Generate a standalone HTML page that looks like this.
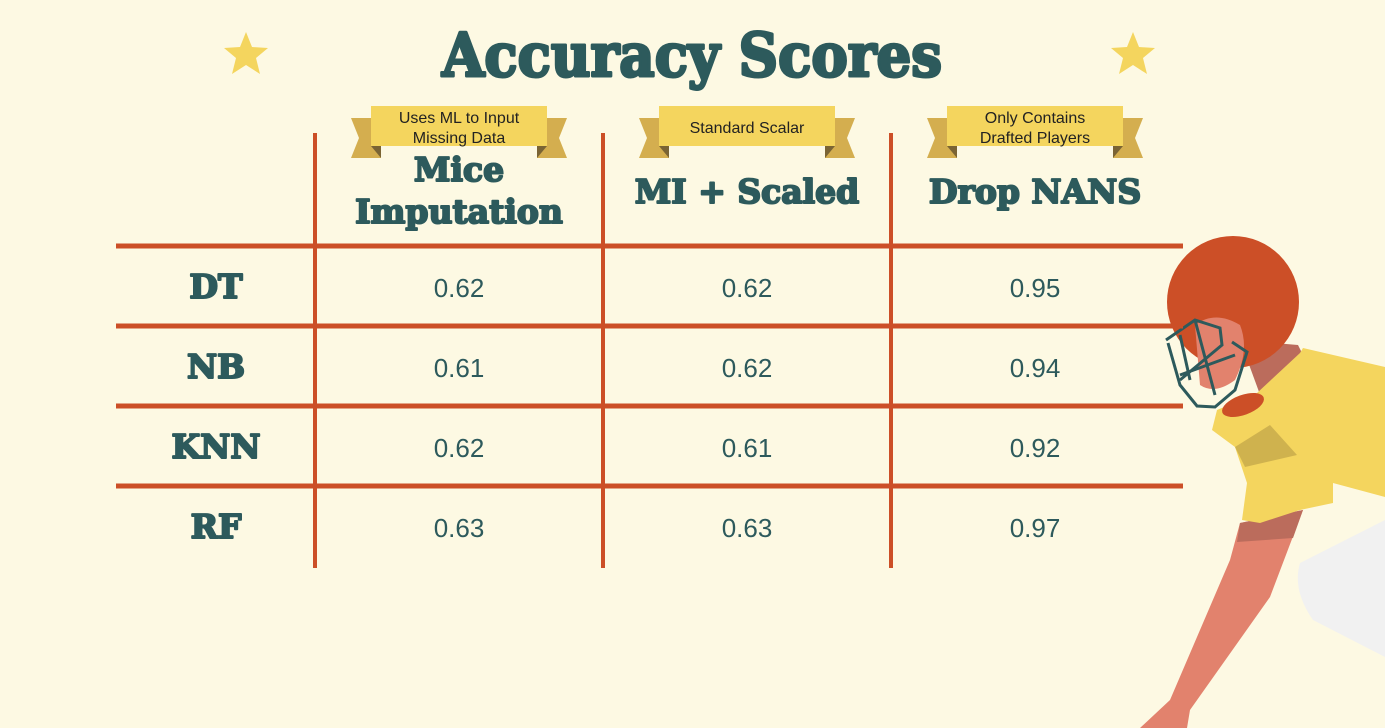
<!DOCTYPE html>
<html><head><meta charset="utf-8">
<style>
html,body{margin:0;padding:0;background:#fdf9e3;}
svg{display:block;}
</style></head>
<body>
<svg id="chart" width="1385" height="728" viewBox="0 0 1385 728">
  <rect width="1385" height="728" fill="#fdf9e3"/>
  <polygon fill="#f4d55e" points="246,32 252,47 268,48 256,58 260,74 246,65 232,74 236,58 224,48 240,47"/>
  <polygon fill="#f4d55e" points="1133,32 1139,47 1155,48 1143,58 1147,74 1133,65 1119,74 1123,58 1111,48 1127,47"/>
  <text x="692" y="76" text-anchor="middle" font-family="'DejaVu Serif','Liberation Serif',serif" font-weight="bold" font-size="60" fill="#2d5a5c" stroke="#2d5a5c" stroke-width="3" stroke-linejoin="round" textLength="500" lengthAdjust="spacingAndGlyphs">Accuracy Scores</text>
  <g id="player">
    <path fill="#f1f1f1" d="M1385,520 L1300,563 Q1292,590 1313,620 L1385,657 Z"/>
    <polygon fill="#e2826d" points="1240,523 1303,510 1270,597 1190,710 1187,728 1140,728 1170,700 1230,560"/>
    <polygon fill="#bb6c5c" points="1240,523 1303,510 1293,538 1237,542"/>
    <polygon fill="#bb6c5c" points="1240,340 1298,345 1303,355 1285,395 1262,400"/>
    <polygon fill="#f4d55e" points="1303,348 1385,367 1385,497 1333,483 1333,503 1300,510 1260,523 1242,520 1247,483 1235,447 1212,430 1217,410 1257,393 1300,353"/>
    <polygon fill="#cfb24e" points="1235,447 1270,425 1297,455 1245,467"/>
    <ellipse cx="1243" cy="405" rx="22" ry="10" fill="#cc4f27" transform="rotate(-20 1243 405)"/>
    <circle cx="1233" cy="302" r="66" fill="#cc4f27"/>
    <path fill="#e2826d" d="M1195,325 Q1215,310 1240,325 Q1250,350 1235,380 Q1215,395 1200,385 Z"/>
    <path fill="none" stroke="#2d5a5c" stroke-width="3" d="M1166,340 L1195,320 L1220,328 L1222,345 L1180,380 M1232,342 L1247,352 L1235,390 L1215,407 L1197,406 L1180,385 L1168,343 M1180,335 L1190,380 M1195,320 L1215,395 M1180,375 L1235,355"/>
  </g>
  <g id="table"></g>
</svg>
<script>
const columns = ["Mice|Imputation", "MI + Scaled", "Drop NANS"];
const ribbons = ["Uses ML to Input|Missing Data", "Standard Scalar", "Only Contains|Drafted Players"];
const models = ["DT", "NB", "KNN", "RF"];
const miceValues = [0.62, 0.61, 0.62, 0.63];
const scaledValues = [0.62, 0.62, 0.61, 0.63];
const dropValues = [0.95, 0.94, 0.92, 0.97];

const NS = "http://www.w3.org/2000/svg";
const g = document.getElementById("table");
function mk(tag, attrs, parent){ const e=document.createElementNS(NS,tag); for(const k in attrs) e.setAttribute(k,attrs[k]); (parent||g).appendChild(e); return e; }
const colX = i => 459 + i*288;
const rowY = i => 246 + i*80;
const lineColor = "#cc4f27", ink = "#2d5a5c";
const heavy = {"font-family":"'DejaVu Serif','Liberation Serif',serif","font-weight":"bold","font-size":"33",fill:ink,stroke:ink,"stroke-width":"2","stroke-linejoin":"round"};

for (let i=0;i<models.length;i++){
  const l = mk("rect",{x:116,y:rowY(i)-2.5,width:1067,height:5,fill:lineColor});
  
  
}
for (let i=0;i<columns.length;i++){
  const l = mk("rect",{x:colX(i)-146,y:133,width:4,height:435,fill:lineColor});
  
  
}
columns.forEach((c,i)=>{
  const cx = colX(i);
  const rg = mk("g",{});
  
  
  const L = cx-88, R = cx+88;
  mk("polygon",{points:`${L},118 ${L-20},118 ${L-12},138 ${L-20},158 ${L+10},158 ${L+10},146 ${L},146`,fill:"#d4ae4f"},rg);
  mk("polygon",{points:`${R},118 ${R+20},118 ${R+12},138 ${R+20},158 ${R-10},158 ${R-10},146 ${R},146`,fill:"#d4ae4f"},rg);
  mk("polygon",{points:`${L},146 ${L+10},158 ${L+10},146`,fill:"#7a6434"},rg);
  mk("polygon",{points:`${R},146 ${R-10},158 ${R-10},146`,fill:"#7a6434"},rg);
  mk("rect",{x:L,y:106,width:176,height:40,fill:"#f4d55e"},rg);
  const rl = ribbons[i].split("|");
  rl.forEach((t,j)=>{
    const y = rl.length===1 ? 133 : 123+j*20;
    const tx = mk("text",{x:cx,y:y,"text-anchor":"middle","font-family":"'Liberation Sans',sans-serif","font-size":"16",fill:"#222"},rg);
    tx.textContent=t;
    
    
  });
  const hl = c.split("|");
  hl.forEach((t,j)=>{
    const y = hl.length===1 ? 203 : 181+j*42;
    const tx = mk("text",Object.assign({x:cx,y:y,"text-anchor":"middle"},heavy));
    tx.textContent=t;
    
    
  });
});
const series = [miceValues, scaledValues, dropValues];
models.forEach((m,r)=>{
  const y = rowY(r)+52;
  const lb = mk("text",Object.assign({x:216,y:y,"text-anchor":"middle"},heavy));
  lb.textContent=m;
  
  
  series.forEach((s,c)=>{
    const t = mk("text",{x:colX(c),y:y-1,"text-anchor":"middle","font-family":"'Liberation Sans',sans-serif","font-size":"26",fill:ink});
    t.textContent = s[r].toFixed(2);
    
    
  });
});
</script>
</body></html>
